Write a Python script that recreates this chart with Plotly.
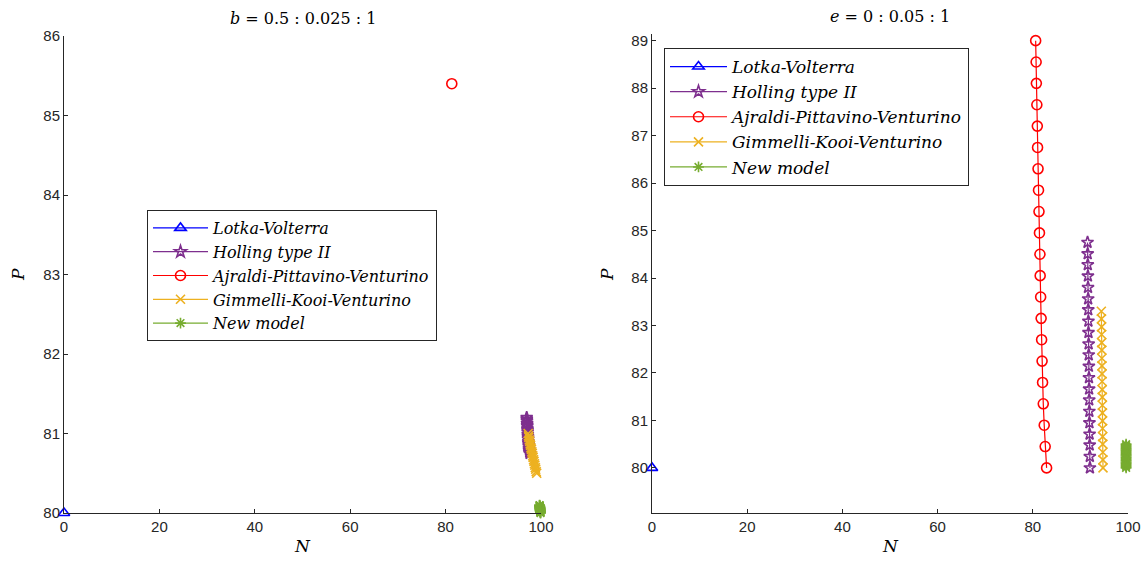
import plotly.graph_objects as go

# ---------------- data ----------------
# Left panel: b = 0.5 : 0.025 : 1
lv_left_N = [0.0]
lv_left_P = [80.0]

hol_left_N = [97.0, 97.02, 97.05, 97.08, 97.1, 97.12, 97.15, 97.18, 97.2, 97.22, 97.25,
              97.28, 97.3, 97.33, 97.36, 97.4, 97.43, 97.47, 97.5, 97.55, 97.6]
hol_left_P = [81.2, 81.18, 81.16, 81.13, 81.11, 81.09, 81.06, 81.04, 81.02, 80.99, 80.97,
              80.95, 80.93, 80.9, 80.88, 80.86, 80.84, 80.81, 80.79, 80.77, 80.75]

ajr_left_N = [81.3]
ajr_left_P = [85.4]

gkv_left_N = [97.3, 97.38, 97.46, 97.55, 97.64, 97.72, 97.81, 97.9, 97.99, 98.08, 98.17,
              98.26, 98.35, 98.44, 98.53, 98.62, 98.72, 98.81, 98.9, 99.0, 99.1]
gkv_left_P = [81.0, 80.97, 80.95, 80.92, 80.9, 80.87, 80.85, 80.82, 80.8, 80.77, 80.75,
              80.72, 80.7, 80.67, 80.65, 80.62, 80.6, 80.57, 80.55, 80.52, 80.5]

new_left_N = [99.7, 99.71, 99.72, 99.73, 99.74, 99.75, 99.76, 99.77, 99.78, 99.79, 99.8,
              99.81, 99.82, 99.83, 99.84, 99.85, 99.86, 99.87, 99.88, 99.89, 99.9]
new_left_P = [80.1, 80.095, 80.09, 80.085, 80.08, 80.075, 80.07, 80.065, 80.06, 80.055, 80.05,
              80.045, 80.04, 80.035, 80.03, 80.025, 80.02, 80.015, 80.01, 80.005, 80.0]

# Right panel: e = 0 : 0.05 : 1
lv_right_N = [0.0]
lv_right_P = [80.0]

hol_right_N = [92.0, 91.98, 91.95, 91.93, 91.9, 91.88, 91.85, 91.83, 91.8, 91.78, 91.75,
               91.73, 91.7, 91.68, 91.65, 91.63, 91.6, 91.58, 91.55, 91.53, 91.5]
hol_right_P = [80.0, 80.24, 80.48, 80.71, 80.95, 81.19, 81.43, 81.66, 81.9, 82.14, 82.38,
               82.61, 82.85, 83.09, 83.33, 83.56, 83.8, 84.04, 84.28, 84.51, 84.75]

ajr_right_N = [82.9, 82.6, 82.4, 82.2, 82.05, 81.95, 81.85, 81.75, 81.65, 81.55, 81.5,
               81.4, 81.3, 81.2, 81.1, 81.0, 80.95, 80.85, 80.75, 80.7, 80.6]
ajr_right_P = [80.0, 80.45, 80.9, 81.35, 81.8, 82.25, 82.7, 83.15, 83.6, 84.05, 84.5,
               84.95, 85.4, 85.85, 86.3, 86.75, 87.2, 87.65, 88.1, 88.55, 89.0]

gkv_right_N = [94.75, 94.73, 94.72, 94.7, 94.68, 94.66, 94.65, 94.63, 94.61, 94.6, 94.58,
               94.56, 94.55, 94.53, 94.51, 94.5, 94.48, 94.46, 94.45, 94.43, 94.4]
gkv_right_P = [80.0, 80.17, 80.33, 80.5, 80.66, 80.83, 80.99, 81.16, 81.32, 81.49, 81.65,
               81.82, 81.98, 82.15, 82.31, 82.48, 82.64, 82.81, 82.97, 83.14, 83.3]

new_right_N = [99.6, 99.6, 99.6, 99.6, 99.6, 99.6, 99.6, 99.6, 99.6, 99.6, 99.6,
               99.6, 99.6, 99.6, 99.6, 99.6, 99.6, 99.6, 99.6, 99.6, 99.6]
new_right_P = [80.0, 80.025, 80.05, 80.075, 80.1, 80.125, 80.15, 80.175, 80.2, 80.225, 80.25,
               80.275, 80.3, 80.325, 80.35, 80.375, 80.4, 80.425, 80.45, 80.475, 80.5]

names = ["Lotka-Volterra", "Holling type II", "Ajraldi-Pittavino-Venturino",
         "Gimmelli-Kooi-Venturino", "New model"]
colors = ["#0000FF", "#7E2F8E", "#FF0000", "#EDB120", "#77AC30"]
symbols = ["triangle-up-open", "star-open", "circle-open", "x-thin-open", "asterisk-open"]
msizes = [10, 9, 10, 9, 9]

left_sets = [(lv_left_N, lv_left_P), (hol_left_N, hol_left_P), (ajr_left_N, ajr_left_P),
             (gkv_left_N, gkv_left_P), (new_left_N, new_left_P)]
right_sets = [(lv_right_N, lv_right_P), (hol_right_N, hol_right_P), (ajr_right_N, ajr_right_P),
              (gkv_right_N, gkv_right_P), (new_right_N, new_right_P)]

fig = go.Figure()

for i, (xs, ys) in enumerate(left_sets):
    fig.add_trace(go.Scatter(
        x=xs, y=ys, mode="lines+markers", name="<i>" + names[i] + "</i>",
        line=dict(color=colors[i], width=1.2),
        marker=dict(symbol=symbols[i], size=msizes[i], color=colors[i],
                    line=dict(color=colors[i], width=1.6)),
        cliponaxis=False, xaxis="x", yaxis="y", legend="legend"))

for i, (xs, ys) in enumerate(right_sets):
    fig.add_trace(go.Scatter(
        x=xs, y=ys, mode="lines+markers", name="<i>" + names[i] + "</i>",
        line=dict(color=colors[i], width=1.2),
        marker=dict(symbol=symbols[i], size=msizes[i], color=colors[i],
                    line=dict(color=colors[i], width=1.6)),
        cliponaxis=False, xaxis="x2", yaxis="y2", legend="legend2"))

W, H = 1146, 567
tickfont = dict(family="Liberation Sans, Arial, sans-serif", size=15, color="#262626")
axis_common = dict(showline=True, linecolor="#262626", linewidth=1, mirror=False,
                   ticks="inside", ticklen=4, tickcolor="#262626", tickfont=tickfont,
                   showgrid=False, zeroline=False, automargin=False)

legend_font_left = dict(family="DejaVu Serif, serif", size=16, color="#000000")
legend_font_right = dict(family="DejaVu Serif, serif", size=17, color="#000000")

fig.update_layout(
    width=W, height=H,
    margin=dict(l=0, r=0, t=0, b=0, autoexpand=False),
    paper_bgcolor="white", plot_bgcolor="white",
    xaxis=dict(domain=[64 / W, 541 / W], range=[0, 100], tickvals=[0, 20, 40, 60, 80, 100],
               anchor="y", **axis_common),
    yaxis=dict(domain=[(H - 513) / H, (H - 36) / H], range=[80, 86],
               tickvals=[80, 81, 82, 83, 84, 85, 86], anchor="x", **axis_common),
    xaxis2=dict(domain=[652 / W, 1128 / W], range=[0, 100], tickvals=[0, 20, 40, 60, 80, 100],
                anchor="y2", **axis_common),
    yaxis2=dict(domain=[(H - 513) / H, (H - 34) / H], range=[79.05, 89.14],
                tickvals=[80, 81, 82, 83, 84, 85, 86, 87, 88, 89], anchor="x2", **axis_common),
    legend=dict(x=147 / W, y=1 - 210 / H, xanchor="left", yanchor="top",
                bgcolor="white", bordercolor="#262626", borderwidth=1,
                font=legend_font_left, itemwidth=55, tracegroupgap=0),
    legend2=dict(x=664 / W, y=1 - 48 / H, xanchor="left", yanchor="top",
                 bgcolor="white", bordercolor="#262626", borderwidth=1,
                 font=legend_font_right, itemwidth=57, tracegroupgap=0),
    showlegend=True,
)

title_font = dict(family="DejaVu Serif, serif", size=16, color="#000000")
label_font = dict(family="DejaVu Serif, serif", size=17, color="#000000")

annos = [
    dict(text="<i>b</i> = 0.5 : 0.025 : 1", x=302.5 / W, y=1 - 18 / H, font=title_font),
    dict(text="<i>e</i> = 0 : 0.05 : 1", x=890 / W, y=1 - 16 / H, font=title_font),
    dict(text="<i>N</i>", x=302.5 / W, y=1 - 546 / H, font=label_font),
    dict(text="<i>N</i>", x=890 / W, y=1 - 546 / H, font=label_font),
    dict(text="<i>P</i>", x=18 / W, y=1 - 275 / H, font=label_font, textangle=-90),
    dict(text="<i>P</i>", x=607 / W, y=1 - 275 / H, font=label_font, textangle=-90),
]
for a in annos:
    fig.add_annotation(xref="paper", yref="paper", showarrow=False,
                       xanchor="center", yanchor="middle", **a)

fig.write_html("out.html", config={"displayModeBar": False},
               post_script="document.body.style.margin='0px';document.body.style.overflow='hidden';")
